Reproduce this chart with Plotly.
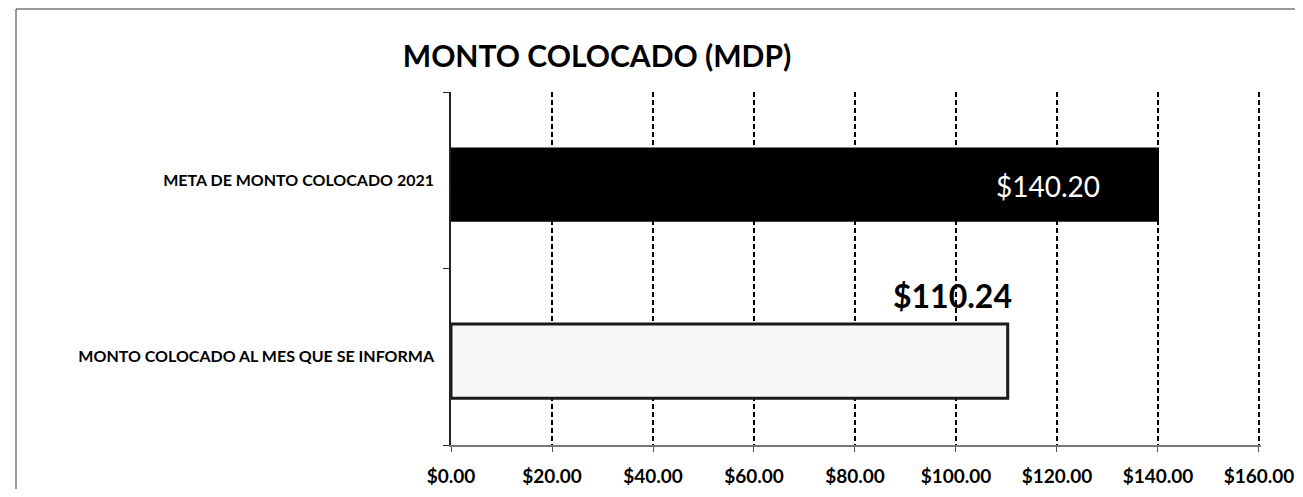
import plotly.graph_objects as go

categories = ["MONTO COLOCADO AL MES QUE SE INFORMA", "META DE MONTO COLOCADO 2021"]
values = [110.24, 140.20]
value_labels = ["$110.24", "$140.20"]
tick_vals = [0, 20, 40, 60, 80, 100, 120, 140, 160]
tick_text = ["$0.00", "$20.00", "$40.00", "$60.00", "$80.00", "$100.00", "$120.00", "$140.00", "$160.00"]
title_text = "MONTO COLOCADO (MDP)"

OFF = 8  # page body margin
W, H = 1303 - OFF, 497 - 2 * OFF
PL, PR, PT, PB = 451, 1261, 92, 445  # plot area in page pixels
L, R, T, B = PL - OFF, OFF + W - PR, PT - OFF, OFF + H - PB
pw, ph = W - L - R, H - T - B

fig = go.Figure()
fig.add_trace(go.Bar(
    y=categories, x=values, orientation="h",
    marker=dict(color=["#f7f7f7", "#000000"],
                line=dict(color=["#1a1a1a", "#000000"], width=[3, 0])),
    width=0.42, offset=-0.235, hoverinfo="skip", showlegend=False,
))

# value labels
fig.add_annotation(x=values[1], y=categories[1], text=value_labels[1], showarrow=False,
                   xanchor="right", xshift=-57, yshift=-6,
                   font=dict(family="Lato", size=28, color="white"))
fig.add_annotation(x=values[0], y=categories[0], text=value_labels[0], showarrow=False,
                   xanchor="right", yanchor="bottom", xshift=6, yshift=40,
                   font=dict(family="Lato", size=32, color="black", weight="bold"))

def px(xp):
    return (xp - PL) / pw

def py(yp):
    return (PB - yp) / ph

# outer frame of the scanned chart
fig.add_shape(type="rect", xref="paper", yref="paper",
              x0=px(16), x1=px(1340), y0=py(540), y1=py(9),
              line=dict(color="#333333", width=1), layer="below")

fig.update_layout(
    width=W, height=H,
    margin=dict(l=L, r=R, t=T, b=B, autoexpand=False),
    paper_bgcolor="white", plot_bgcolor="white",
    title=dict(text=title_text, xref="container", yref="container",
               x=(597 - OFF) / W, y=1 - (56 - OFF) / H, xanchor="center", yanchor="middle",
               font=dict(family="Lato", size=30, color="black", weight="bold")),
    xaxis=dict(range=[0, 160.4], tickvals=tick_vals, ticktext=tick_text,
               showgrid=True, gridcolor="black", griddash="5px,3px", gridwidth=2,
               showline=True, linecolor="#777777", linewidth=2,
               ticks="outside", ticklen=5, tickcolor="#555555",
               ticklabelstandoff=8, automargin=False,
               tickfont=dict(family="Lato", size=19, color="black", weight="bold"),
               zeroline=False, fixedrange=True),
    yaxis=dict(categoryorder="array", categoryarray=categories,
               showline=True, linecolor="#222222", linewidth=1.5,
               ticks="outside", ticklen=6, tickson="boundaries", tickcolor="#222222",
               ticklabelstandoff=12, automargin=False,
               tickfont=dict(family="Lato", size=16, color="black", weight="bold"),
               showgrid=False, fixedrange=True),
    bargap=0.59,
)

fig.write_html("out.html")
